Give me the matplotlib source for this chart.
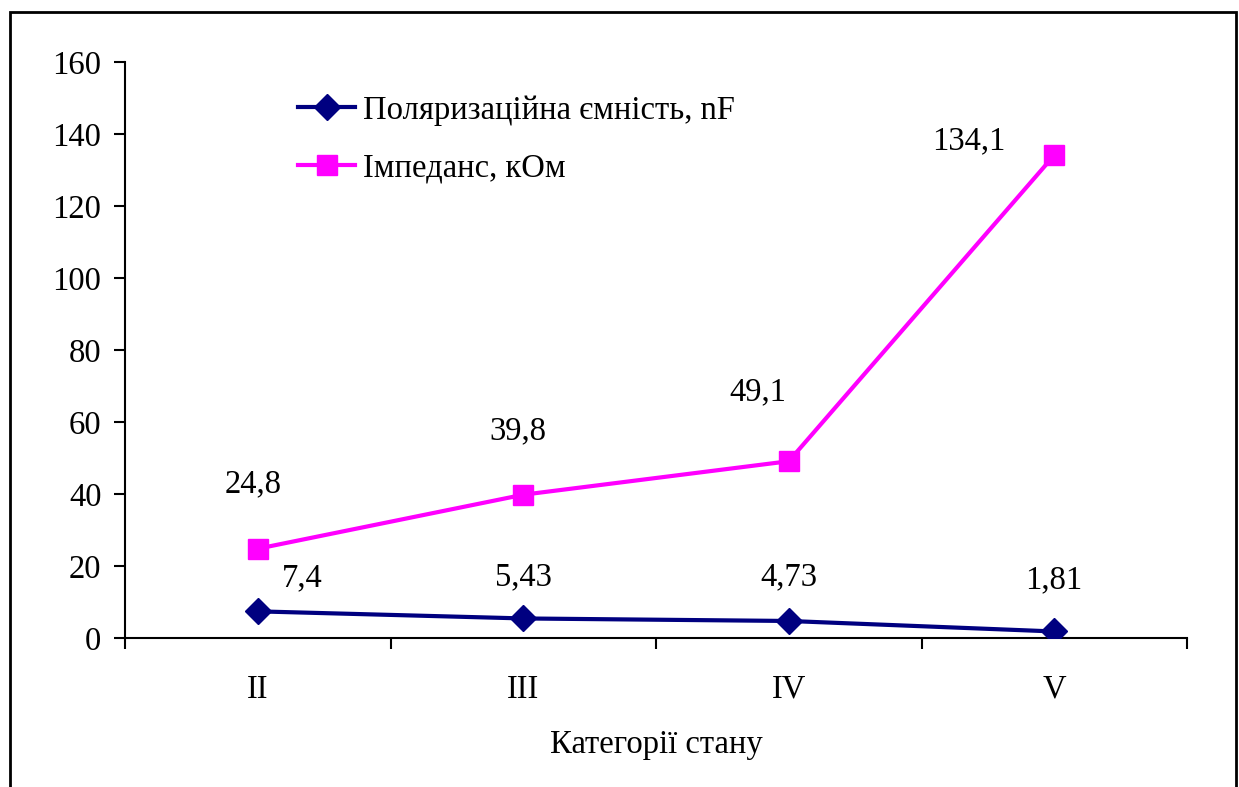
import matplotlib
matplotlib.use("Agg")
import matplotlib.pyplot as plt
from matplotlib.patches import Rectangle
import numpy as np

plt.rcParams['font.family'] = ['Liberation Serif', 'DejaVu Serif']

categories = ["II", "III", "IV", "V"]
capacitance = [7.4, 5.43, 4.73, 1.81]
impedance = [24.8, 39.8, 49.1, 134.1]
cap_labels = ["7,4", "5,43", "4,73", "1,81"]
imp_labels = ["24,8", "39,8", "49,1", "134,1"]

# label offsets in pixels (dx, dy) relative to each marker
cap_offsets = [(45, 33), (0, 41), (0, 44), (0, 51)]
imp_offsets = [(-5, 65), (-5, 64), (-31, 69), (-85, 14)]

W, H = 1239, 787
fig = plt.figure(figsize=(W / 100, H / 100), dpi=100)
ax = fig.add_axes([125 / W, 1 - 638 / H, (1187 - 125) / W, (638 - 62) / H])

x = np.arange(len(categories))
navy = "#000080"
magenta = "#FF00FF"

ax.plot(x, capacitance, color=navy, lw=3, marker="D", ms=13.5,
        markerfacecolor=navy, markeredgecolor=navy,
        label="Поляризаційна ємність, nF", zorder=3)
ax.plot(x, impedance, color=magenta, lw=3, marker="s", ms=14,
        markerfacecolor=magenta, markeredgecolor=magenta,
        label="Імпеданс, кОм", zorder=3)

fs = 23.5
for xi, v, t, (dx, dy) in zip(x, capacitance, cap_labels, cap_offsets):
    ax.annotate(t, (xi, v), xytext=(dx, dy), textcoords="offset pixels",
                ha="center", va="center", fontsize=fs)
for xi, v, t, (dx, dy) in zip(x, impedance, imp_labels, imp_offsets):
    ax.annotate(t, (xi, v), xytext=(dx, dy), textcoords="offset pixels",
                ha="center", va="center", fontsize=fs)

ax.set_xlim(-0.5, len(categories) - 0.5)
ax.set_ylim(0, 160)
ax.set_yticks(np.arange(0, 161, 20))
ax.tick_params(axis="y", labelsize=fs, length=8, width=1.5, direction="out", pad=9)

ax.set_xticks(np.arange(-0.5, len(categories), 1.0))
ax.set_xticklabels([])
ax.set_xticks(x, minor=True)
ax.set_xticklabels(categories, minor=True)
ax.tick_params(axis="x", which="major", length=8, width=1.5, direction="out")
ax.tick_params(axis="x", which="minor", length=0, labelsize=fs, pad=26)

for s in ["top", "right"]:
    ax.spines[s].set_visible(False)
for s in ["left", "bottom"]:
    ax.spines[s].set_linewidth(1.5)

ax.set_xlabel("Категорії стану", fontsize=fs, labelpad=18)

leg = ax.legend(loc="upper left", bbox_to_anchor=(160 / (1187 - 125), 1 - 20 / 576),
                frameon=False, fontsize=fs, handlelength=1.75, handletextpad=0.25,
                labelspacing=0.85, borderaxespad=0)

# outer chart frame
fig.patches.append(Rectangle((10 / W, -0.05), (1236 - 10) / W, 1.05 - 12 / H,
                             transform=fig.transFigure, fill=False,
                             edgecolor="black", lw=2))

fig.savefig("out.png", dpi=100)
